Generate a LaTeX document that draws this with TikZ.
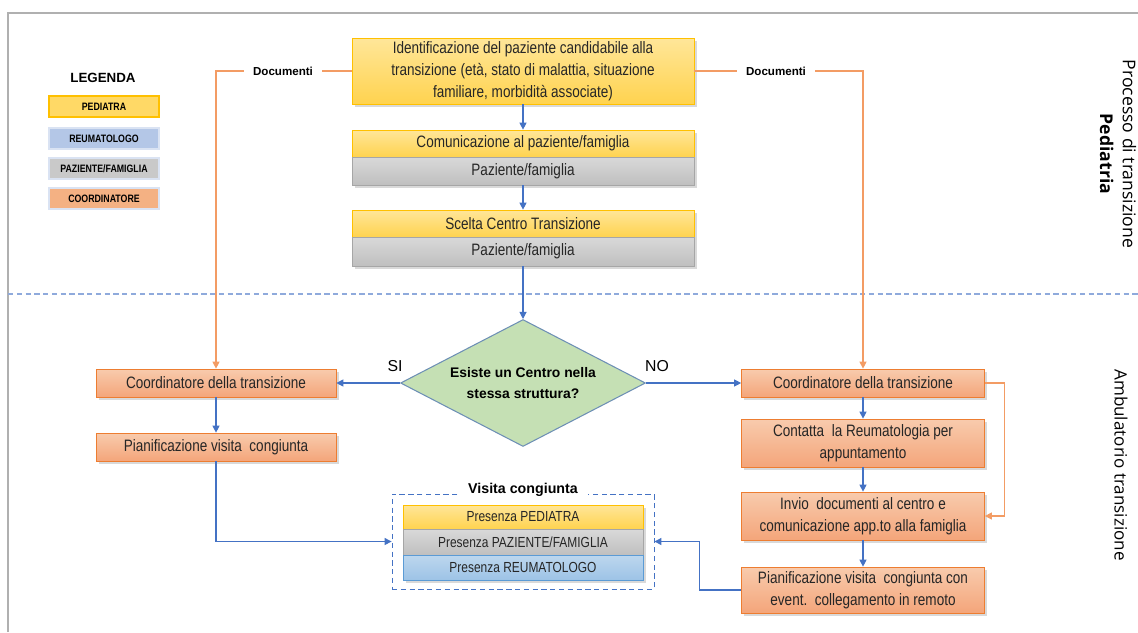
\documentclass[tikz,border=0pt]{standalone}
\usepackage{fontspec}
\setmainfont{Liberation Sans}
\newfontfamily\narrowfont[FakeStretch=0.82]{Liberation Sans}
\newfontfamily\sidefont{Open Sans}
\usetikzlibrary{shapes.geometric,arrows.meta,shadows}

\definecolor{pedTop}{HTML}{FFE699}
\definecolor{pedBottom}{HTML}{FFD34F}
\definecolor{pedBorder}{HTML}{FFC000}
\definecolor{pazTop}{HTML}{D9D9D9}
\definecolor{pazBottom}{HTML}{BFBFBF}
\definecolor{pazBorder}{HTML}{A6A6A6}
\definecolor{coordTop}{HTML}{F8CBAD}
\definecolor{coordBottom}{HTML}{F4A57A}
\definecolor{coordBorder}{HTML}{ED7D31}
\definecolor{reuTop}{HTML}{BDD7EE}
\definecolor{reuBottom}{HTML}{9DC3E6}
\definecolor{reuBorder}{HTML}{5B9BD5}
\definecolor{legPedFill}{HTML}{FFD966}
\definecolor{legReuFill}{HTML}{B4C7E7}
\definecolor{legPazFill}{HTML}{C9C9C9}
\definecolor{legCoordFill}{HTML}{F4B183}
\definecolor{legBorder}{HTML}{DAE3F3}
\definecolor{flowBlue}{HTML}{4472C4}
\definecolor{docOrange}{HTML}{F39C64}
\definecolor{diaFill}{HTML}{C5E0B4}
\definecolor{diaBorder}{HTML}{6D8FB5}
\definecolor{dividerBlue}{HTML}{8FAADC}
\definecolor{frameGray}{HTML}{B0B0B0}

\newcommand{\boxfont}{\narrowfont\fontsize{9.4}{12.5}\selectfont}
\newcommand{\legendfont}{\narrowfont\bfseries\fontsize{6.1}{7}\selectfont}

\begin{document}
\begin{tikzpicture}
		[x=0.02cm,y=-0.02cm,
			boxDecorate/.style={shape=rectangle,draw,inner sep=1pt,align=center,
				font=\boxfont,text=black!85,
				drop shadow={shadow xshift=1.5pt,shadow yshift=-1.5pt,opacity=0.3}},
			yellowDecorate/.style={boxDecorate,draw=pedBorder,top color=pedTop,bottom color=pedBottom},
			grayDecorate/.style={boxDecorate,draw=pazBorder,top color=pazTop,bottom color=pazBottom},
			orangeDecorate/.style={boxDecorate,draw=coordBorder,top color=coordTop,bottom color=coordBottom},
			blueDecorate/.style={boxDecorate,draw=reuBorder,top color=reuTop,bottom color=reuBottom},
			legendDecorate/.style={shape=rectangle,draw,line width=0.8pt,minimum width=2.2cm,
				minimum height=0.42cm,inner sep=0pt,font=\legendfont},
			arrowDecorate/.style={draw=flowBlue,line width=0.6pt,-{Triangle[length=4pt,width=4pt]}},
			docDecorate/.style={draw=docOrange,line width=0.6pt},
			labelDecorate/.style={font=\bfseries\fontsize{6.6}{8}\selectfont,inner xsep=0.18cm}]
		\useasboundingbox (0,0) rectangle (1138,632);
		% frame and divider
		\draw[frameGray,line width=0.8pt] (8,632) -- (8,13) -- (1138,13);
		\draw[dividerBlue,densely dashed,line width=0.6pt] (8,294) -- (1138,294);
		\node (procLabel) at (1118,154) [rotate=-90,align=center,font=\sidefont\fontsize{10}{13}\selectfont]
			{Processo di transizione\\\textbf{Pediatria}};
		\node (ambLabel) at (1121,465) [rotate=-90,font=\sidefont\fontsize{9.7}{13}\selectfont]
			{Ambulatorio transizione};

		% legend
		\node (legTitle) at (103,78) [font=\bfseries\fontsize{7.6}{9}\selectfont] {LEGENDA};
		\foreach \nodename/\y/\fillcolor/\bordercolor/\label in {
				legPed/106.5/legPedFill/pedBorder/PEDIATRA, legReu/138.5/legReuFill/legBorder/REUMATOLOGO,
				legPaz/168.5/legPazFill/legBorder/{PAZIENTE/FAMIGLIA}, legCoord/198.5/legCoordFill/legBorder/COORDINATORE}
			{
				\node (\nodename) at (104,\y) [legendDecorate,fill=\fillcolor,draw=\bordercolor] {\label};
			}

		% pediatric process
		\node (ident) at (523,71) [yellowDecorate,minimum width=6.84cm,minimum height=1.32cm]
			{Identificazione del paziente candidabile alla\\transizione (età, stato di malattia, situazione\\familiare, morbidità associate)};
		\node (comm) at (523,143.5) [yellowDecorate,minimum width=6.84cm,minimum height=0.54cm]
			{Comunicazione al paziente/famiglia};
		\node (commPat) at (523,171) [grayDecorate,minimum width=6.84cm,minimum height=0.56cm]
			{Paziente/famiglia};
		\node (scelta) at (523,223.5) [yellowDecorate,minimum width=6.84cm,minimum height=0.54cm]
			{Scelta Centro Transizione};
		\node (sceltaPat) at (523,251.5) [grayDecorate,minimum width=6.84cm,minimum height=0.58cm]
			{Paziente/famiglia};

		% decision
		\node (dia) at (523,383) [shape=diamond,aspect=1.93,draw=diaBorder,fill=diaFill,line width=0.6pt,inner sep=0pt,
			minimum width=4.9cm,minimum height=2.54cm,align=center,font=\bfseries\fontsize{7.9}{11.9}\selectfont]
			{Esiste un Centro nella\\stessa struttura?};
		\node (si) at (395,366) [font=\fontsize{9}{11}\selectfont] {SI};
		\node (no) at (657,366) [font=\fontsize{9}{11}\selectfont] {NO};

		% same structure
		\node (coordL) at (216,383) [orangeDecorate,minimum width=4.8cm,minimum height=0.56cm]
			{Coordinatore della transizione};
		\node (pianL) at (216,447) [orangeDecorate,minimum width=4.8cm,minimum height=0.56cm]
			{Pianificazione visita\ \ congiunta};

		% other structure
		\node (coordR) at (863,383) [orangeDecorate,minimum width=4.86cm,minimum height=0.56cm]
			{Coordinatore della transizione};
		\node (contatta) at (863,443) [orangeDecorate,minimum width=4.86cm,minimum height=0.96cm]
			{Contatta\ \ la Reumatologia per\\appuntamento};
		\node (invio) at (863,516) [orangeDecorate,minimum width=4.86cm,minimum height=0.96cm]
			{Invio\ \ documenti al centro e\\comunicazione app.to alla famiglia};
		\node (pianR) at (863,590) [orangeDecorate,minimum width=4.86cm,minimum height=0.92cm]
			{Pianificazione visita\ \ congiunta con\\event.\ \ collegamento in remoto};

		% joint visit
		\node (visita) at (523,541.5) [shape=rectangle,draw=flowBlue,densely dashed,line width=0.5pt,
			minimum width=5.24cm,minimum height=1.9cm] {};
		\node (visitaTitle) at (523,490) [fill=white,inner xsep=0.2cm,font=\bfseries\fontsize{8.1}{10}\selectfont]
			{Visita congiunta};
		\node (presPed) at (523,517) [yellowDecorate,minimum width=4.8cm,minimum height=0.48cm,
			font=\narrowfont\fontsize{8.3}{10}\selectfont,drop shadow={opacity=0}] {Presenza PEDIATRA};
		\node (presPaz) at (523,542) [grayDecorate,minimum width=4.8cm,minimum height=0.52cm,
			font=\narrowfont\fontsize{8.3}{10}\selectfont,drop shadow={opacity=0}] {Presenza PAZIENTE/FAMIGLIA};
		\node (presReu) at (523,567.5) [blueDecorate,minimum width=4.8cm,minimum height=0.5cm,
			font=\narrowfont\fontsize{8.3}{10}\selectfont,drop shadow={opacity=0}] {Presenza REUMATOLOGO};

		% documents
		\node (docL) at (283,71) [labelDecorate] {Documenti};
		\node (docR) at (776,71) [labelDecorate] {Documenti};
		\draw[docDecorate] (ident.west) -- (docL.east);
		\draw[docDecorate,-{Triangle[length=4pt,width=4pt]}] (docL.west) -| (coordL.north);
		\draw[docDecorate] (ident.east) -- (docR.west);
		\draw[docDecorate,-{Triangle[length=4pt,width=4pt]}] (docR.east) -| (coordR.north);
		\draw[docDecorate,-{Triangle[length=4pt,width=4pt]}] (coordR.east) -- ++(20,0) |- (invio.east);

		% flow
		\path
		\foreach \startnode/\endnode in {ident/comm, commPat/scelta, sceltaPat/dia, dia/coordL, dia/coordR,
				coordL/pianL, coordR/contatta, contatta/invio, invio/pianR}
			{
				(\startnode) edge[arrowDecorate] (\endnode)
			};
		\draw[arrowDecorate] (pianL.south) |- (visita.west);
		\draw[arrowDecorate] (pianR.west) -- ++(-42,0) |- (visita.east);
	\end{tikzpicture}
\end{document}
